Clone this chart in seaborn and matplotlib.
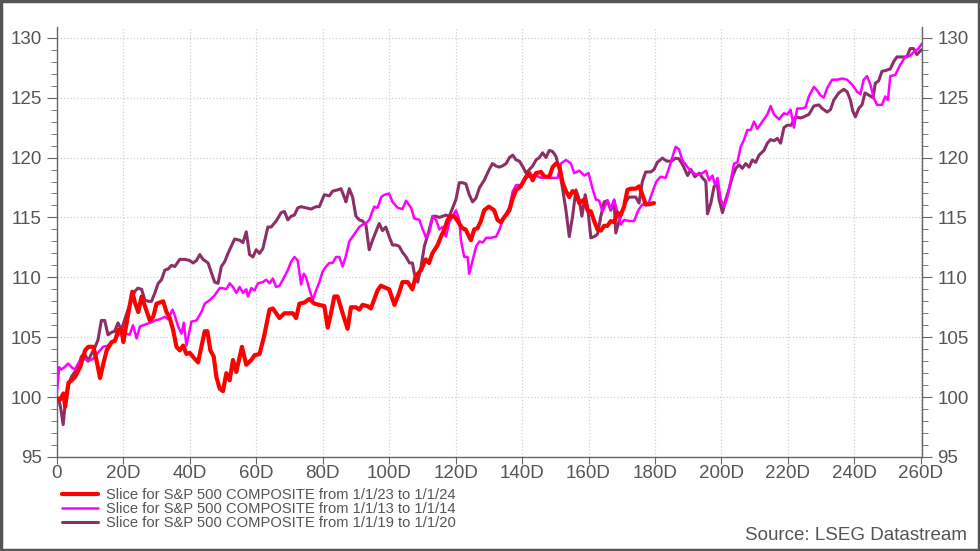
import matplotlib
matplotlib.use("Agg")
import matplotlib.pyplot as plt
import matplotlib.patches as patches
from matplotlib.ticker import MultipleLocator, FuncFormatter
import seaborn as sns

# S&P 500 rebased to 100, slices by trading day
red_days = [0, 1, 2, 2.5, 3.5, 4.5, 5.5, 7, 8.5, 9.5, 11, 12, 13, 14, 15, 16.5, 17.5, 18.5, 19.5, 20,
            21.5, 22.7, 23.5, 24.5, 25.5, 26.5, 28, 29, 30, 32, 33, 34, 35, 36, 37, 38, 39, 40, 41.5, 42.5,
            43.5, 44.5, 45.3, 46.2, 47.2, 48, 49, 50, 51, 52, 53, 54, 55.7, 57, 58.5, 59.5, 61, 62.3, 64, 65,
            67, 68.5, 71, 72, 73, 74.5, 76, 77.5, 79, 80.5, 81.5, 82.5, 83.5, 84.5, 86, 87.5, 88.5, 90, 91, 92,
            93.5, 94.5, 96.5, 97.5, 100, 101.6, 103, 104, 105.6, 107, 108, 109.6, 111, 112, 113, 114.6, 115.6,
            116.6, 117.6, 118.6, 119.6, 120.6, 122, 123, 124.6, 125.6, 126.6, 127.6, 128.6, 130, 131.6, 132.6,
            133.6, 134.6, 136.2, 137.2, 138.2, 139.6, 141.2, 142.2, 143.2, 144.2, 145.7, 146.7, 148.2, 149.2,
            150.2, 151.2, 152.2, 153.2, 154.2, 155.2, 156.2, 157.2, 158.7, 159.7, 160.7, 161.7, 162.7, 163.7,
            164.7, 165.7, 166.7, 167.7, 168.7, 169.7, 170.7, 171.7, 172.7, 174.2, 175.2, 176.2, 177.2, 178.2,
            179.7]
red_vals = [99.9, 99.8, 100.3, 99.2, 101.2, 101.4, 101.7, 102.5, 103.9, 104.2, 104.2, 103.0, 101.6, 102.8,
            103.9, 104.6, 104.7, 105.6, 105.6, 104.6, 107.0, 108.8, 107.9, 107.1, 108.4, 107.6, 106.4, 106.7,
            107.8, 108.0, 107.1, 106.6, 105.6, 104.2, 103.9, 104.3, 103.6, 103.7, 103.2, 102.9, 104.2, 105.5,
            105.5, 103.9, 103.4, 101.7, 100.7, 100.5, 102.0, 101.4, 103.1, 102.1, 104.2, 102.7, 103.1, 103.5,
            103.6, 105.0, 107.3, 107.4, 106.6, 107.0, 107.0, 106.6, 107.8, 107.9, 108.2, 107.8, 107.7, 107.6,
            105.8, 107.0, 108.4, 108.4, 107.0, 105.7, 107.5, 107.5, 107.3, 107.7, 107.6, 107.4, 108.9, 109.3,
            109.0, 107.7, 108.7, 109.6, 109.6, 109.0, 110.1, 110.6, 111.5, 111.2, 112.0, 112.7, 113.4, 114.0,
            114.8, 115.1, 115.1, 114.7, 114.1, 114.0, 113.1, 114.0, 114.1, 114.7, 115.6, 115.9, 115.6, 114.8,
            114.6, 115.0, 115.6, 116.6, 117.3, 117.6, 118.4, 118.7, 118.1, 118.7, 118.8, 118.4, 118.4, 119.2,
            119.5, 119.3, 117.9, 117.2, 116.7, 117.2, 117.0, 116.2, 116.5, 115.6, 115.5, 114.7, 114.0, 113.9,
            114.3, 114.3, 114.7, 114.6, 115.4, 115.2, 115.9, 117.3, 117.4, 117.4, 117.6, 116.9, 116.1, 116.1,
            116.2]

mag_days = [0, 0.7, 1.3, 2.3, 3.4, 4.4, 5.4, 6.4, 7.4, 8.4, 9.4, 10.9, 12.4, 13.9, 15.4, 16.4, 17.4, 18.4,
            19.4, 20.9, 21.9, 22.9, 24, 25, 26, 27, 28, 29.5, 31, 32.5, 33.5, 34.8, 35.5, 36.5, 37.5, 38.2,
            39, 40.5, 42, 43.5, 44.5, 46, 47.5, 49, 50, 51, 52, 53, 54, 55, 56, 57, 57.5, 58.5, 59.5, 60.5, 62,
            63, 64, 65, 66, 67, 68, 69.5, 70.5, 71.5, 72.5, 73.5, 74.3, 75, 76, 77, 78, 79, 80, 81, 82, 83, 84,
            85, 86, 87, 88, 89, 90, 91, 92, 93, 94, 95.5, 96.5, 97.6, 98.6, 100, 101, 102.6, 104, 105.1, 106.6,
            107.6, 109.1, 110.1, 111.1, 112.1, 113.1, 114.1, 115.1, 116.1, 117.1, 118.1, 119.1, 120.1, 121.1,
            121.6, 122.6, 123.6, 124.1, 125.1, 126.2, 127.2, 128.2, 129.2, 130.7, 132.2, 133.2, 134.2, 135.2,
            136.2, 137.2, 138.2, 139.7, 141.2, 142.7, 144.2, 145.7, 147.2, 148.7, 150.7, 151.7, 153.2, 154.7,
            155.7, 157.2, 158.7, 160, 161.2, 162.2, 163.2, 164.2, 165.7, 166.7, 167.7, 168.7, 169.7, 170.7,
            172.2, 173.7, 175, 176.2, 177.2, 178.2, 179.2, 180.4, 181.7, 183.2, 184.2, 185.2, 186.2, 187.2,
            188.2, 189.5, 190.7, 192.2, 193.7, 195.3, 196.3, 197.3, 198.1, 198.8, 199.8, 200.8, 201.8, 202.8,
            203.8, 204.8, 205.8, 206.8, 207.8, 208.8, 209.8, 210.8, 212.3, 213.8, 214.8, 215.8, 217.3, 218.8,
            219.8, 220.8, 221.8, 222.8, 224.3, 225.3, 226.3, 227.8, 228.8, 229.8, 230.8, 231.8, 233.3, 234.8,
            236.3, 237.8, 239.3, 240.8, 241.8, 242.8, 243.8, 244.8, 245.8, 246.8, 248.3, 249.3, 250.1, 250.8,
            252.3, 253.8, 255.3, 256.8, 257.8, 259.3, 260.3]
mag_vals = [100.3, 102.5, 102.3, 102.5, 102.8, 102.5, 102.3, 102.8, 103.2, 103.2, 103.0, 103.2, 103.7, 104.2,
            104.3, 104.6, 104.7, 105.2, 105.3, 105.3, 105.2, 106.0, 104.9, 105.9, 106.0, 106.1, 106.2, 106.4,
            106.5, 106.7, 106.5, 107.3, 106.8, 105.9, 105.3, 106.2, 104.3, 106.3, 106.4, 107.1, 107.8, 108.1,
            108.5, 109.1, 109.1, 109.0, 109.5, 109.2, 108.7, 109.2, 108.7, 109.0, 108.4, 109.1, 108.9, 109.5,
            109.6, 109.8, 109.5, 109.9, 109.2, 109.3, 109.8, 110.6, 111.3, 111.7, 111.4, 109.4, 110.3, 110.0,
            109.0, 108.1, 108.9, 109.6, 110.5, 110.9, 111.2, 111.2, 111.7, 111.7, 110.9, 111.8, 113.0, 113.4,
            113.8, 114.2, 114.4, 114.5, 114.8, 115.9, 115.8, 116.7, 116.9, 117.0, 116.3, 115.8, 115.7, 116.4,
            115.8, 114.9, 114.8, 114.0, 113.3, 113.8, 115.1, 114.8, 114.0, 114.2, 113.4, 114.6, 115.1, 115.6,
            114.8, 113.1, 111.7, 111.7, 110.3, 111.4, 112.6, 113.0, 112.9, 113.3, 113.3, 113.4, 114.0, 114.8,
            115.3, 115.9, 117.2, 117.7, 117.7, 118.3, 118.5, 118.5, 118.3, 118.4, 118.3, 118.3, 119.5, 119.8,
            119.5, 118.7, 118.9, 118.5, 118.7, 117.4, 116.5, 116.4, 115.5, 116.4, 115.7, 116.5, 115.4, 114.4,
            114.8, 114.7, 114.7, 115.6, 116.1, 116.0, 116.3, 117.1, 118.0, 118.4, 118.3, 119.1, 120.0, 120.9,
            120.7, 119.8, 119.3, 118.9, 118.6, 118.6, 118.9, 118.1, 118.5, 117.7, 118.3, 116.5, 115.9, 116.7,
            118.1, 119.5, 119.6, 120.9, 121.5, 122.3, 122.3, 123.0, 122.4, 123.0, 123.6, 124.3, 123.6, 123.2,
            123.7, 123.6, 124.0, 122.5, 124.1, 124.1, 124.2, 125.1, 125.9, 125.6, 125.2, 125.0, 125.8, 126.5,
            126.5, 126.6, 126.5, 126.1, 125.5, 125.3, 126.5, 126.8, 126.1, 125.0, 124.4, 124.4, 125.1, 124.8,
            126.8, 126.9, 127.75, 128.4, 128.5, 128.8, 129.1, 129.5]

pur_days = [0, 0.5, 1.1, 1.9, 2.7, 3.4, 4.4, 5.4, 6.4, 7.4, 8.4, 9.4, 10.4, 11.4, 12.4, 13.4, 14.4, 15.4,
            16.4, 17.4, 18.4, 19.4, 20.7, 22.4, 23.4, 24.4, 25.5, 26.5, 27.5, 28.5, 29.5, 30.5, 31.5, 32.5,
            33.5, 34.5, 35.5, 37, 38.5, 40, 41, 42, 43, 44, 45.5, 46.5, 47.5, 48.5, 49.5, 50.5, 51.5, 52.5,
            53.5, 55, 56, 57, 58, 59, 60, 61, 62, 63.5, 64.5, 66, 67.5, 68.5, 69.5, 70.5, 71.5, 72.5, 73.5, 75,
            76.5, 78, 79, 80.5, 82, 83, 84.5, 85.5, 86.5, 87, 88, 89, 90, 91, 92, 93, 94, 95, 96, 97, 98, 99,
            100, 101, 102, 103, 104, 105.1, 106.1, 107, 107.6, 108.6, 109.6, 110.6, 112.1, 113.1, 114.1, 115.1,
            116.1, 117.1, 118.1, 119.1, 120.1, 121.1, 122.1, 123.1, 124.1, 125.1, 126.1, 127.2, 128.6, 130.1,
            131.1, 132.1, 133.1, 134.1, 135.2, 136.2, 137.2, 138.2, 139.2, 140.2, 141.2, 142.2, 143.2, 144.2,
            145.2, 146.2, 147.2, 148.2, 149.2, 150.2, 151.2, 152.2, 153.2, 154.2, 155.2, 156.2, 157.2, 158,
            159, 159.7, 160.7, 161.7, 162.7, 163.7, 164.7, 165.7, 166.7, 167.7, 168.2, 169.2, 170.2, 171.2,
            172.2, 173.2, 174.2, 175.2, 176.2, 177.2, 178.7, 179.7, 180.7, 182.2, 183.6, 185, 186.2, 187.2,
            188.5, 189.8, 190.8, 192, 193.3, 194.3, 195.3, 195.8, 196.8, 197.8, 198.8, 199.3, 200.3, 201.3,
            202.3, 203.3, 204.3, 205.3, 206.3, 207.3, 208.3, 209.3, 210.3, 211.3, 212.8, 213.8, 214.8, 215.8,
            216.8, 217.8, 218.8, 219.8, 221, 222.3, 223.8, 224.8, 226.3, 227.8, 229.3, 230.3, 231.8, 232.8,
            233.8, 235.3, 236.8, 237.8, 238.8, 239.5, 240.3, 241.3, 242.3, 243.2, 244.4, 245.6, 246.3, 247.3,
            248.3, 249.8, 250.8, 251.8, 252.8, 254.3, 255.8, 256.8, 257.8, 258.8, 259.8, 260.3]
pur_vals = [100.0, 99.8, 99.2, 97.7, 100.0, 100.9, 101.7, 102.1, 102.5, 103.4, 103.6, 103.0, 103.6, 104.1,
            104.8, 106.4, 106.4, 105.2, 105.4, 105.5, 106.2, 105.6, 106.7, 108.1, 108.8, 109.1, 109.0, 108.1,
            108.0, 108.0, 108.7, 109.5, 109.8, 110.6, 110.7, 111.0, 110.9, 111.5, 111.5, 111.4, 111.2, 111.4,
            111.9, 111.5, 111.2, 110.4, 109.6, 109.5, 110.9, 111.3, 112.0, 112.6, 113.2, 113.1, 112.9, 113.8,
            111.9, 111.7, 112.3, 112.0, 112.4, 114.2, 114.2, 114.7, 115.4, 115.5, 114.8, 115.1, 115.2, 115.8,
            115.9, 115.8, 115.7, 115.9, 115.9, 116.9, 116.8, 117.2, 117.3, 117.4, 116.7, 116.3, 117.4, 116.7,
            115.1, 114.8, 114.7, 114.4, 112.3, 113.1, 113.8, 114.5, 113.9, 114.2, 113.4, 112.7, 112.7, 112.6,
            112.1, 111.7, 111.2, 111.2, 110.3, 109.6, 110.9, 112.6, 114.0, 115.1, 115.1, 115.0, 115.1, 115.2,
            115.1, 115.8, 116.5, 117.9, 117.9, 117.8, 116.9, 116.3, 116.6, 117.5, 118.1, 119.0, 119.5, 119.3,
            119.2, 119.3, 119.5, 120.0, 120.2, 119.8, 119.7, 119.25, 118.7, 119.0, 119.3, 119.8, 120.0, 120.4,
            120.0, 120.6, 120.5, 120.1, 119.0, 117.4, 115.6, 113.4, 115.1, 117.3, 116.5, 115.1, 116.9, 115.9,
            113.3, 113.4, 113.6, 115.1, 116.3, 116.4, 115.6, 116.4, 113.7, 114.7, 115.6, 116.3, 116.7, 116.7,
            116.7, 116.2, 118.0, 118.8, 118.8, 119.0, 119.6, 119.95, 119.7, 119.7, 119.95, 119.9, 119.3, 118.5,
            119.0, 118.4, 118.7, 118.3, 118.0, 115.3, 116.2, 117.6, 117.7, 116.5, 115.4, 116.5, 117.4, 118.4,
            119.1, 119.4, 119.1, 119.5, 119.2, 119.8, 119.6, 120.2, 120.6, 121.2, 121.5, 121.4, 121.6, 121.2,
            122.5, 122.7, 122.7, 123.4, 123.3, 123.4, 123.6, 124.3, 124.4, 124.1, 123.8, 124.0, 124.8, 125.4,
            125.7, 125.5, 124.8, 123.9, 123.4, 124.1, 124.4, 125.4, 125.2, 125.0, 126.2, 126.4, 127.2, 127.3,
            127.4, 128.0, 128.4, 128.4, 128.4, 129.1, 129.1, 128.6, 128.9, 129.0]

labels = ["Slice for S&P 500 COMPOSITE from 1/1/23 to 1/1/24",
          "Slice for S&P 500 COMPOSITE from 1/1/13 to 1/1/14",
          "Slice for S&P 500 COMPOSITE from 1/1/19 to 1/1/20"]
x_ticks = [0, 20, 40, 60, 80, 100, 120, 140, 160, 180, 200, 220, 240, 260]

sns.set_style("white")
plt.rcParams["font.family"] = ["Liberation Sans", "DejaVu Sans"]

fig = plt.figure(figsize=(9.8, 5.51), dpi=100)
ax = fig.add_axes([0.058, 0.1706, 0.883, 0.7804])

# draw order: purple, magenta, red on top
sns.lineplot(x=pur_days, y=pur_vals, ax=ax, color="#8b3066", lw=2.2, label=labels[2],
             sort=False, estimator=None, zorder=3)
sns.lineplot(x=mag_days, y=mag_vals, ax=ax, color="#ff00ff", lw=1.8, label=labels[1],
             sort=False, estimator=None, zorder=4)
sns.lineplot(x=red_days, y=red_vals, ax=ax, color="#ff0000", lw=3.0, label=labels[0],
             sort=False, estimator=None, zorder=5)

ax.set_xlim(0, 260.4)
ax.set_ylim(95, 130.9)
ax.set_xticks(x_ticks)
ax.xaxis.set_major_formatter(FuncFormatter(lambda v, p: "0" if v == 0 else "%dD" % v))
ax.yaxis.set_major_locator(MultipleLocator(5))
ax.yaxis.set_minor_locator(MultipleLocator(1))
ax.grid(True, which="major", color="#d0d0d0", linestyle=":", linewidth=0.9)
ax.set_axisbelow(True)

for s in ["left", "right", "bottom"]:
    ax.spines[s].set_color("#666666")
    ax.spines[s].set_linewidth(1.0)
ax.spines["top"].set_visible(False)

ax.tick_params(axis="y", which="both", left=True, right=True, labelleft=True, labelright=True,
               direction="out", colors="#666666", labelcolor="#555555", labelsize=13.5, pad=4)
ax.tick_params(axis="y", which="major", length=7)
ax.tick_params(axis="y", which="minor", length=4)
ax.tick_params(axis="x", which="major", bottom=True, direction="out", length=5,
               colors="#666666", labelcolor="#555555", labelsize=13.5, pad=1)
ax.set_xlabel("")
ax.set_ylabel("")

h, l = ax.get_legend_handles_labels()
order = [2, 1, 0]
leg = ax.legend([h[i] for i in order], [l[i] for i in order], loc="upper left",
                bbox_to_anchor=(0.0633, 0.1135), bbox_transform=fig.transFigure,
                frameon=False, fontsize=10.6, handlelength=2.45, handletextpad=0.55,
                labelspacing=0.0, borderpad=0, borderaxespad=0)
for t in leg.get_texts():
    t.set_color("#555555")

fig.text(0.987, 0.012, "Source: LSEG Datastream", ha="right", va="bottom",
         fontsize=13.5, color="#555555")

fig.patches.append(patches.Rectangle((0.001, 0.001), 0.998, 0.998, transform=fig.transFigure,
                                     fill=False, edgecolor="#555555", linewidth=2.5))

fig.savefig("out.png", dpi=100)
